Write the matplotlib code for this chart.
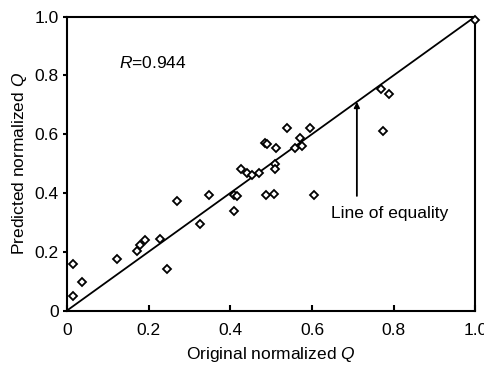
import matplotlib
matplotlib.use("Agg")
import matplotlib.pyplot as plt

plt.rcParams['font.family'] = ['Liberation Sans', 'DejaVu Sans']
plt.rcParams['mathtext.fontset'] = 'custom'
plt.rcParams['mathtext.it'] = 'Liberation Sans:italic'
plt.rcParams['mathtext.rm'] = 'Liberation Sans'

# Data
original_q = [0.014, 0.037, 0.014, 0.123, 0.171, 0.179, 0.190, 0.227, 0.246, 0.269,
              0.326, 0.348, 0.408, 0.416, 0.410, 0.426, 0.442, 0.453, 0.471, 0.485,
              0.489, 0.511, 0.510, 0.510, 0.488, 0.507, 0.540, 0.559, 0.575, 0.571,
              0.596, 0.606, 0.769, 0.789, 0.775, 1.000]
predicted_q = [0.160, 0.098, 0.049, 0.174, 0.203, 0.223, 0.239, 0.242, 0.140, 0.373,
               0.294, 0.392, 0.393, 0.390, 0.338, 0.481, 0.467, 0.461, 0.467, 0.571,
               0.566, 0.554, 0.500, 0.481, 0.393, 0.395, 0.620, 0.552, 0.560, 0.588,
               0.620, 0.393, 0.752, 0.735, 0.612, 0.988]
equality_x = [0.0, 1.0]
equality_y = [0.0, 1.0]
tick_values = [0.0, 0.2, 0.4, 0.6, 0.8, 1.0]
tick_labels = ["0", "0.2", "0.4", "0.6", "0.8", "1.0"]
r_text = "$R$=0.944"
arrow_tip = (0.71, 0.71)
arrow_tail = (0.71, 0.39)
label_text = "Line of equality"

fig = plt.figure(figsize=(4.85, 3.68), dpi=100)
ax = fig.add_axes([0.138, 0.156, 0.842, 0.799])

ax.plot(equality_x, equality_y, color='black', lw=1.3, zorder=2)
ax.plot(original_q, predicted_q, linestyle='none', marker='D', ms=4.2,
        mfc='white', mec='black', mew=1.3, zorder=3, clip_on=False)

ax.annotate("", xy=arrow_tip, xytext=arrow_tail,
            arrowprops=dict(arrowstyle='-|>', color='black', lw=1.3,
                            mutation_scale=8, shrinkA=0, shrinkB=0))
ax.text(0.79, 0.33, label_text, ha='center', va='center', fontsize=12.5)
ax.text(0.127, 0.842, r_text, ha='left', va='center', fontsize=12.5)

ax.set_xlim(0, 1.0)
ax.set_ylim(0, 1.0)
ax.set_xticks(tick_values)
ax.set_xticklabels(tick_labels)
ax.set_yticks(tick_values)
ax.set_yticklabels(tick_labels)
ax.tick_params(axis='x', direction='in', length=4, width=1.5, labelsize=12.5, pad=9)
ax.tick_params(axis='y', direction='out', length=3, width=1.5, labelsize=12.5, pad=3)
for s in ax.spines.values():
    s.set_linewidth(1.5)

ax.set_xlabel("Original normalized $Q$", fontsize=12.5, labelpad=5)
ax.set_ylabel("Predicted normalized $Q$", fontsize=12.5, labelpad=4)

fig.savefig("out.png", dpi=100)
